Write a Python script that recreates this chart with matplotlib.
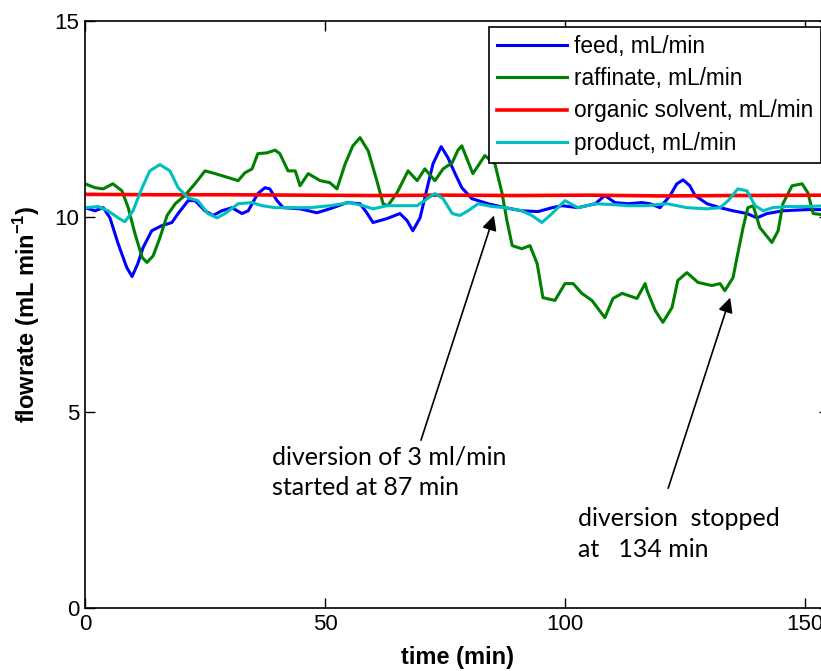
#!/usr/bin/env python3
"""Flowrates of feed, raffinate, organic solvent and product over time,
with the 3 mL/min diversion window marked."""
import matplotlib
matplotlib.use("Agg")
import matplotlib.pyplot as plt
from matplotlib import font_manager as fm

# time (min) / flowrate (mL/min)
feed_t = [0, 2.1, 3.8, 5.2, 6.9, 8.7, 9.8, 11.0, 12.1, 13.9, 16.0, 18.1, 19.4,
          21.5, 22.9, 25.0, 26.7, 28.5, 30.6, 32.7, 34.0, 36.0, 37.5, 38.5,
          40.0, 41.3, 44.8, 48.3, 51.0, 54.6, 57.3, 58.7, 60.0, 62.9, 65.6,
          67.1, 68.3, 69.8, 71.3, 72.5, 74.2, 75.6, 77.1, 78.5, 80.6, 84.0,
          87.5, 91.0, 94.4, 97.3, 99.4, 102.7, 106.3, 108.3, 110.4, 113.1,
          116.0, 117.7, 119.8, 121.9, 123.3, 124.6, 126.0, 127.1, 129.6,
          132.3, 135.0, 137.9, 140.0, 142.1, 145.4, 150.4, 155.0]
feed_v = [10.23, 10.15, 10.23, 9.97, 9.31, 8.70, 8.47, 8.80, 9.21, 9.64, 9.77,
          9.85, 10.08, 10.41, 10.41, 10.15, 10.03, 10.15, 10.23, 10.08, 10.15,
          10.59, 10.74, 10.71, 10.41, 10.23, 10.20, 10.10, 10.20, 10.36,
          10.33, 10.10, 9.85, 9.95, 10.08, 9.90, 9.64, 9.97, 10.74, 11.35,
          11.79, 11.51, 11.10, 10.74, 10.46, 10.33, 10.23, 10.15, 10.13,
          10.23, 10.28, 10.23, 10.33, 10.54, 10.36, 10.33, 10.36, 10.33,
          10.23, 10.54, 10.84, 10.94, 10.79, 10.54, 10.33, 10.23, 10.15,
          10.08, 9.97, 10.08, 10.15, 10.18, 10.18]

raff_t = [0, 2.1, 3.8, 5.8, 7.7, 9.0, 10.4, 11.9, 12.9, 14.2, 15.6, 17.1, 18.8,
          20.8, 22.9, 25.0, 27.1, 29.8, 31.9, 33.3, 34.8, 36.0, 37.9, 39.6,
          40.6, 42.3, 43.8, 44.8, 46.5, 49.0, 51.0, 52.5, 54.2, 55.8, 57.3,
          59.0, 60.8, 62.1, 63.1, 65.0, 67.3, 69.2, 70.8, 72.9, 74.6, 76.5,
          77.7, 78.5, 80.8, 83.3, 85.4, 86.9, 87.9, 89.0, 91.0, 92.7, 94.2,
          95.4, 97.9, 100.0, 101.7, 103.5, 105.6, 108.3, 110.0, 111.9, 115.0,
          116.7, 117.1, 118.8, 120.4, 122.3, 123.5, 125.4, 127.7, 130.6,
          132.3, 133.3, 135.0, 136.0, 137.1, 138.1, 139.2, 140.6, 143.1,
          144.4, 145.4, 147.3, 149.4, 150.6, 151.7, 155.0]
raff_v = [10.84, 10.74, 10.71, 10.84, 10.66, 10.23, 9.57, 8.96, 8.83, 9.00,
          9.46, 10.03, 10.33, 10.54, 10.84, 11.17, 11.10, 11.00, 10.92, 11.12,
          11.22, 11.61, 11.63, 11.70, 11.61, 11.17, 11.17, 10.79, 11.10,
          10.92, 10.87, 10.71, 11.35, 11.81, 12.02, 11.68, 10.92, 10.33,
          10.28, 10.61, 11.17, 10.92, 11.22, 10.92, 11.22, 11.38, 11.70,
          11.81, 11.10, 11.56, 11.35, 10.59, 9.90, 9.26, 9.18, 9.26, 8.80,
          7.93, 7.86, 8.29, 8.29, 8.04, 7.86, 7.42, 7.91, 8.04, 7.91, 8.29,
          8.11, 7.60, 7.30, 7.68, 8.37, 8.57, 8.32, 8.24, 8.29, 8.11, 8.44,
          9.06, 9.72, 10.23, 10.28, 9.72, 9.34, 9.64, 10.33, 10.79, 10.84,
          10.61, 10.08, 10.03]

solv_t = [0, 15, 30, 45, 60, 75, 90, 105, 120, 135, 155]
solv_v = [10.57, 10.56, 10.56, 10.55, 10.54, 10.55, 10.54, 10.55, 10.53, 10.54, 10.55]

prod_t = [0, 2.7, 4.8, 6.9, 8.3, 10.0, 11.9, 13.5, 15.6, 17.7, 19.4, 21.5, 23.5,
          25.6, 27.5, 29.2, 31.9, 34.8, 36.9, 39.6, 42.7, 46.9, 51.0, 55.2,
          57.9, 60.0, 62.9, 66.3, 69.2, 71.3, 72.9, 74.6, 76.5, 78.1, 79.8,
          81.9, 84.8, 87.5, 91.0, 93.1, 95.2, 97.3, 100.0, 102.7, 106.3,
          109.8, 113.1, 116.7, 121.3, 125.4, 129.6, 132.3, 134.0, 136.0,
          137.9, 139.6, 141.3, 143.3, 146.3, 150.4, 155.0]
prod_v = [10.23, 10.26, 10.15, 9.97, 9.87, 10.15, 10.74, 11.17, 11.33, 11.17,
          10.74, 10.48, 10.41, 10.08, 9.97, 10.08, 10.33, 10.36, 10.28, 10.23,
          10.23, 10.23, 10.28, 10.36, 10.28, 10.20, 10.28, 10.28, 10.28,
          10.46, 10.59, 10.46, 10.08, 10.03, 10.15, 10.33, 10.26, 10.23,
          10.15, 10.03, 9.85, 10.08, 10.41, 10.23, 10.33, 10.31, 10.28, 10.28,
          10.33, 10.23, 10.20, 10.23, 10.41, 10.71, 10.66, 10.28, 10.15,
          10.23, 10.26, 10.26, 10.28]

SERIES = [
    ("feed, mL/min", feed_t, feed_v, (0, 0, 1)),
    ("raffinate, mL/min", raff_t, raff_v, (0, 0.5, 0)),
    ("organic solvent, mL/min", solv_t, solv_v, (1, 0, 0)),
    ("product, mL/min", prod_t, prod_v, (0, 0.75, 0.75)),
]

# notes: text, text position (left, middle), arrow tail, arrow tip
NOTES = [
    ("diversion of 3 ml/min\nstarted at 87 min", (39.0, 3.47), (70.0, 4.29), (85.2, 10.03)),
    ("diversion  stopped\nat   134 min", (102.7, 1.89), (121.5, 3.06), (134.4, 7.93)),
]


def main():
    names = {f.name for f in fm.fontManager.ttflist}
    axis_font = ["Liberation Sans Narrow", "Liberation Sans", "DejaVu Sans"]
    axis_font = [f for f in axis_font if f in names] or ["DejaVu Sans"]
    plt.rcParams.update({
        "font.family": axis_font,
        "font.size": 15,
        "mathtext.fontset": "custom",
        "mathtext.rm": axis_font[0],
        "mathtext.bf": axis_font[0] + ":bold",
    })

    fig = plt.figure(figsize=(8.21, 6.71), dpi=100)
    ax = fig.add_axes([85 / 821, 63 / 671, 744 / 821, 587 / 671])

    for label, t, v, color in SERIES:
        lw = 2.6 if label.startswith("organic") else 2.2
        ax.plot(t, v, color=color, lw=lw, label=label)

    ax.set_xlim(0, 155)
    ax.set_ylim(0, 15)
    ax.set_xticks([0, 50, 100, 150])
    ax.set_yticks([0, 5, 10, 15])
    ax.tick_params(direction="in", length=7, top=True, right=True,
                   labelsize=16, width=1, pad=4)
    for s in ax.spines.values():
        s.set_linewidth(1.2)

    ax.set_xlabel("time (min)", fontsize=17, fontweight="bold", labelpad=8)
    ax.set_ylabel(r"flowrate (mL min$^{\mathbf{-1}}$)", fontsize=17,
                  fontweight="bold", labelpad=9)

    leg = ax.legend(loc="upper left", bbox_to_anchor=(489 / 821, 1 - 27 / 671),
                    bbox_transform=fig.transFigure, fontsize=16.3, frameon=True,
                    fancybox=False, edgecolor="black", framealpha=1,
                    handlelength=3.1, handletextpad=0.3, labelspacing=0.41,
                    borderpad=0.35, borderaxespad=0)
    leg.get_frame().set_linewidth(1.2)

    note_font = [f for f in ["Lato", "Open Sans", "DejaVu Sans"] if f in names]
    for text, pos, tail, tip in NOTES:
        ax.text(pos[0], pos[1], text, ha="left", va="center", fontsize=18,
                family=note_font, linespacing=1.4)
        ax.annotate("", xy=tip, xytext=tail,
                    arrowprops=dict(arrowstyle="-|>", color="black", lw=1.2,
                                    mutation_scale=22, shrinkA=0, shrinkB=0))

    fig.savefig("out.png", dpi=100)
    plt.close(fig)


if __name__ == "__main__":
    main()
